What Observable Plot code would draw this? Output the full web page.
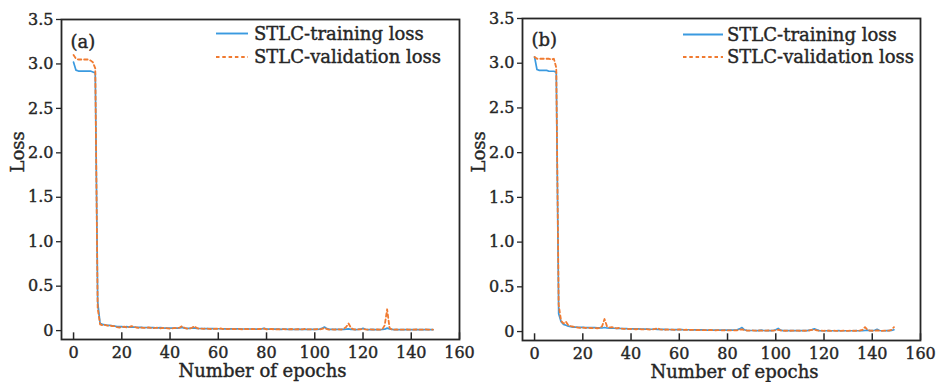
<!DOCTYPE html>
<html>
<head>
<meta charset="utf-8">
<script src="https://cdn.jsdelivr.net/npm/d3@7"></script>
<script src="https://cdn.jsdelivr.net/npm/@observablehq/plot@0.6"></script>
<style>
  html, body { margin: 0; padding: 0; background: #fff; }
  #wrap { position: relative; width: 936px; height: 382px; overflow: hidden; font-family: "DejaVu Serif", serif; }
  .panel { position: absolute; top: 0; }
  #legend { position: absolute; left: 0; top: 0; pointer-events: none; }
  #wrap text { stroke: #262626; stroke-width: 0.4px; }
</style>
</head>
<body>
<div id="wrap"></div>
<script>
// ---------- data ----------
const epochs = d3.range(150);
const seriesNames = ["STLC-training loss", "STLC-validation loss"];
const panelTags = ["(a)", "(b)"];
const xTicks = [0, 20, 40, 60, 80, 100, 120, 140, 160];
const yTicks = [0, 0.5, 1.0, 1.5, 2.0, 2.5, 3.0, 3.5];
const xLabel = "Number of epochs";
const yLabel = "Loss";

const trainA = [
  3.02, 2.93, 2.92, 2.92, 2.92, 2.92, 2.92, 2.92, 2.91, 2.90,
  0.32, 0.08, 0.07, 0.065, 0.06, 0.06, 0.055, 0.05, 0.045, 0.045,
  0.045, 0.04, 0.045, 0.04, 0.042, 0.04, 0.038, 0.037, 0.036, 0.035,
  0.035, 0.034, 0.033, 0.034, 0.032, 0.031, 0.033, 0.03, 0.029, 0.028,
  0.028, 0.027, 0.027, 0.028, 0.03, 0.036, 0.028, 0.026, 0.025, 0.027,
  0.03, 0.025, 0.024, 0.024, 0.023, 0.023, 0.022, 0.022, 0.022, 0.021,
  0.021, 0.021, 0.02, 0.021, 0.02, 0.02, 0.019, 0.019, 0.02, 0.019,
  0.018, 0.018, 0.019, 0.018, 0.018, 0.017, 0.018, 0.017, 0.019, 0.025,
  0.018, 0.016, 0.016, 0.017, 0.016, 0.016, 0.015, 0.016, 0.017, 0.015,
  0.016, 0.015, 0.015, 0.016, 0.015, 0.014, 0.015, 0.015, 0.014, 0.015,
  0.014, 0.015, 0.017, 0.025, 0.04, 0.022, 0.014, 0.013, 0.014, 0.013,
  0.013, 0.014, 0.013, 0.016, 0.02, 0.014, 0.013, 0.012, 0.013, 0.016,
  0.025, 0.015, 0.012, 0.012, 0.013, 0.012, 0.012, 0.012, 0.013, 0.016,
  0.028, 0.02, 0.013, 0.012, 0.012, 0.011, 0.012, 0.011, 0.012, 0.011,
  0.012, 0.011, 0.011, 0.012, 0.011, 0.011, 0.012, 0.011, 0.011, 0.011
];
const valA = [
  3.10, 3.06, 3.05, 3.05, 3.05, 3.05, 3.05, 3.04, 3.02, 2.95,
  0.25, 0.07, 0.06, 0.065, 0.055, 0.06, 0.05, 0.05, 0.04, 0.035,
  0.04, 0.045, 0.035, 0.04, 0.05, 0.045, 0.035, 0.03, 0.035, 0.03,
  0.03, 0.035, 0.03, 0.028, 0.03, 0.033, 0.025, 0.03, 0.028, 0.025,
  0.022, 0.025, 0.03, 0.025, 0.035, 0.05, 0.03, 0.022, 0.025, 0.03,
  0.05, 0.03, 0.02, 0.022, 0.02, 0.025, 0.02, 0.018, 0.02, 0.022,
  0.02, 0.025, 0.018, 0.02, 0.016, 0.02, 0.018, 0.016, 0.02, 0.017,
  0.015, 0.018, 0.017, 0.015, 0.018, 0.016, 0.015, 0.018, 0.02, 0.022,
  0.015, 0.014, 0.018, 0.015, 0.014, 0.016, 0.014, 0.017, 0.015, 0.013,
  0.018, 0.014, 0.013, 0.016, 0.014, 0.013, 0.02, 0.014, 0.013, 0.015,
  0.013, 0.016, 0.014, 0.02, 0.03, 0.018, 0.012, 0.014, 0.012, 0.013,
  0.015, 0.012, 0.02, 0.04, 0.08, 0.03, 0.014, 0.012, 0.013, 0.015,
  0.02, 0.013, 0.011, 0.014, 0.012, 0.011, 0.013, 0.011, 0.015, 0.06,
  0.24, 0.03, 0.012, 0.011, 0.013, 0.011, 0.012, 0.011, 0.013, 0.011,
  0.012, 0.011, 0.013, 0.011, 0.012, 0.011, 0.013, 0.012, 0.011, 0.012
];
const trainB = [
  3.07, 2.93, 2.92, 2.92, 2.92, 2.92, 2.91, 2.91, 2.91, 2.90,
  0.2, 0.11, 0.08, 0.07, 0.06, 0.055, 0.05, 0.05, 0.048, 0.047,
  0.046, 0.045, 0.045, 0.044, 0.043, 0.043, 0.042, 0.041, 0.04, 0.045,
  0.04, 0.038, 0.038, 0.037, 0.036, 0.035, 0.034, 0.033, 0.032, 0.031,
  0.03, 0.03, 0.029, 0.029, 0.028, 0.028, 0.027, 0.027, 0.026, 0.026,
  0.027, 0.025, 0.025, 0.024, 0.024, 0.023, 0.023, 0.022, 0.022, 0.022,
  0.021, 0.021, 0.02, 0.02, 0.02, 0.019, 0.019, 0.019, 0.018, 0.018,
  0.018, 0.017, 0.017, 0.017, 0.016, 0.016, 0.016, 0.016, 0.015, 0.015,
  0.015, 0.015, 0.015, 0.016, 0.02, 0.03, 0.045, 0.02, 0.012, 0.012,
  0.012, 0.012, 0.011, 0.011, 0.015, 0.012, 0.011, 0.011, 0.011, 0.012,
  0.02, 0.035, 0.015, 0.011, 0.01, 0.01, 0.01, 0.01, 0.011, 0.01,
  0.01, 0.01, 0.01, 0.011, 0.015, 0.022, 0.03, 0.02, 0.01, 0.009,
  0.009, 0.009, 0.01, 0.009, 0.009, 0.009, 0.01, 0.009, 0.009, 0.009,
  0.009, 0.009, 0.009, 0.01, 0.009, 0.009, 0.01, 0.012, 0.015, 0.01,
  0.01, 0.015, 0.025, 0.012, 0.009, 0.009, 0.01, 0.01, 0.012, 0.02
];
const valB = [
  3.07, 3.05, 3.05, 3.05, 3.05, 3.05, 3.05, 3.04, 3.05, 2.95,
  0.3, 0.12, 0.09, 0.11, 0.07, 0.06, 0.055, 0.05, 0.045, 0.04,
  0.045, 0.04, 0.042, 0.04, 0.038, 0.04, 0.037, 0.038, 0.06, 0.14,
  0.06, 0.045, 0.05, 0.04, 0.035, 0.04, 0.033, 0.03, 0.032, 0.028,
  0.03, 0.028, 0.025, 0.03, 0.026, 0.024, 0.028, 0.025, 0.022, 0.025,
  0.03, 0.038, 0.025, 0.022, 0.02, 0.024, 0.02, 0.022, 0.018, 0.02,
  0.025, 0.02, 0.018, 0.02, 0.017, 0.018, 0.02, 0.016, 0.018, 0.015,
  0.017, 0.015, 0.016, 0.018, 0.015, 0.014, 0.016, 0.015, 0.013, 0.015,
  0.014, 0.013, 0.015, 0.013, 0.014, 0.02, 0.025, 0.015, 0.012, 0.011,
  0.013, 0.011, 0.01, 0.012, 0.01, 0.011, 0.01, 0.012, 0.01, 0.011,
  0.015, 0.02, 0.012, 0.01, 0.009, 0.011, 0.009, 0.01, 0.009, 0.011,
  0.009, 0.01, 0.009, 0.011, 0.012, 0.018, 0.02, 0.013, 0.009, 0.01,
  0.008, 0.01, 0.009, 0.008, 0.01, 0.008, 0.009, 0.008, 0.01, 0.009,
  0.008, 0.01, 0.009, 0.008, 0.01, 0.012, 0.02, 0.05, 0.02, 0.01,
  0.009, 0.01, 0.012, 0.009, 0.008, 0.01, 0.009, 0.01, 0.02, 0.05
];

// ---------- style ----------
const colors = ["#3a9ae0", "#f07a30"];
const ink = "#262626";
const font = "'DejaVu Serif', serif";
const dash = "3.5,2.8";

const wrap = document.getElementById("wrap");

function makePanel(cfg) {
  const rows = s => epochs.map((e, i) => ({epoch: e, loss: s[i]}));
  const chart = Plot.plot({
    width: cfg.width,
    height: 382,
    marginLeft: cfg.ml,
    marginRight: cfg.mr,
    marginTop: cfg.mt,
    marginBottom: cfg.mb,
    style: {fontFamily: font, color: ink, background: "transparent", overflow: "visible"},
    x: {domain: [-5, 160]},
    y: {domain: [-0.1, 3.5]},
    marks: [
      Plot.axisY(yTicks, {
        tickSize: 5, tickPadding: 3, fontSize: 16, stroke: ink, strokeWidth: 1.3,
        tickFormat: d => d === 0 ? "0" : d.toFixed(1), label: null
      }),
      Plot.axisX(xTicks, {
        tickSize: 0, tickPadding: 7, fontSize: 16, label: null
      }),
      Plot.ruleX(xTicks, {x: d => d, y1: -0.1, y2: -0.025, stroke: ink, strokeWidth: 1.5}),
      Plot.line(rows(cfg.train), {x: "epoch", y: "loss", stroke: colors[0], strokeWidth: 1.7}),
      Plot.line(rows(cfg.val), {x: "epoch", y: "loss", stroke: colors[1], strokeWidth: 1.8, strokeDasharray: dash}),
      Plot.frame({stroke: ink, strokeWidth: 1.8}),
      Plot.text([cfg.tag], {frameAnchor: "top-left", textAnchor: "start", lineAnchor: "middle", dx: 9, dy: cfg.tagDy, fontSize: 18, fill: ink}),
      Plot.text([yLabel], {frameAnchor: "left", rotate: -90, dx: -43, dy: -7, fontSize: 18, fill: ink, lineAnchor: "middle"}),
      Plot.text([xLabel], {frameAnchor: "bottom", dx: cfg.xlDx, dy: 32, fontSize: 18, fill: ink, lineAnchor: "middle"})
    ]
  });
  chart.classList.add("panel");
  chart.style.left = cfg.left + "px";
  wrap.appendChild(chart);
}

makePanel({train: trainA, val: valA, tag: panelTags[0], left: 0, width: 468, ml: 61, mr: 9, mt: 19, mb: 43, tagDy: 23, xlDx: 2});
makePanel({train: trainB, val: valB, tag: panelTags[1], left: 466, width: 470, ml: 56, mr: 16, mt: 18, mb: 42, tagDy: 22, xlDx: 13});

// ---------- legends (inside each panel, top right) ----------
const legendSpecs = [
  {x1: 216, x2: 248, tx: 254, rows: [33.5, 57]},
  {x1: 683, x2: 723, tx: 727, rows: [34.5, 57]}
];
const lsvg = d3.select(wrap).append("svg").attr("id", "legend").attr("width", 936).attr("height", 382);
legendSpecs.forEach(spec => {
  seriesNames.forEach((name, i) => {
    const y = spec.rows[i];
    lsvg.append("line")
      .attr("x1", spec.x1).attr("x2", spec.x2).attr("y1", y).attr("y2", y)
      .attr("stroke", colors[i]).attr("stroke-width", 1.9)
      .attr("stroke-dasharray", i === 1 ? dash : null);
    lsvg.append("text")
      .attr("x", spec.tx).attr("y", y).attr("dy", "0.35em")
      .attr("font-family", font).attr("font-size", 18).attr("fill", ink)
      .text(name);
  });
});
</script>
</body>
</html>
